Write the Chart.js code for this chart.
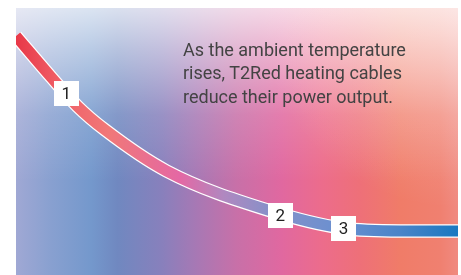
<!DOCTYPE html>
<html>
<head>
<meta charset="utf-8">
<script src="https://cdn.jsdelivr.net/npm/chart.js@4"></script>
<style>
  html, body { margin: 0; padding: 0; background: #fff; }
  #wrap { position: relative; width: 461px; height: 275px; }
  #note {
    position: absolute; left: 183px; top: 38px;
    font-family: Roboto, sans-serif; font-size: 18px; line-height: 23.3px;
    color: #434343; white-space: nowrap;
  }
</style>
</head>
<body>
<div id="wrap">
  <canvas id="chart" width="461" height="275"></canvas>
  <div id="note">As the ambient temperature<br>rises, T2Red heating cables<br>reduce their power output.</div>
</div>
<script>
// ambient temperature (relative) vs power output (relative)
const temps = [0, 8, 14, 20, 34, 57, 74, 87, 100];
const power = [89.5, 74, 63, 54.5, 39, 24.3, 17.5, 16.5, 16.5];

// numbered markers along the curve
const markerText = ["1", "2", "3"];
const markerTemp = [11.4, 59.8, 74.1];
const markerPower = [67.9, 22.3, 17.4];

const points = temps.map((t, i) => ({ x: t, y: power[i] }));

function lineGradient(context) {
  const chart = context.chart;
  const area = chart.chartArea;
  if (!area) return "#e84050";
  const g = chart.ctx.createLinearGradient(area.left, 0, area.right, 0);
  g.addColorStop(0.00, "#e83848");
  g.addColorStop(0.10, "#f06068");
  g.addColorStop(0.21, "#f07878");
  g.addColorStop(0.37, "#e468a4");
  g.addColorStop(0.47, "#b088c0");
  g.addColorStop(0.57, "#8890c8");
  g.addColorStop(0.73, "#6a90d0");
  g.addColorStop(0.87, "#4a84c8");
  g.addColorStop(1.00, "#1a78c0");
  return g;
}

const backdrop = {
  id: "backdrop",
  beforeDraw(chart) {
    const { ctx, chartArea: a } = chart;
    const w = a.right - a.left, ht = a.bottom - a.top;
    ctx.save();
    const h = ctx.createLinearGradient(a.left, 0, a.right, 0);
    const stops = [
      [0.00, "#a0a8d4"], [0.08, "#88a0d0"], [0.17, "#7498cc"], [0.23, "#7088c0"],
      [0.33, "#8880bc"], [0.41, "#a878b4"], [0.50, "#c870a8"], [0.60, "#e068a0"],
      [0.69, "#ec6c8c"], [0.78, "#ee7078"], [0.87, "#f07c68"], [0.96, "#f08070"],
      [1.00, "#f08a80"]
    ];
    stops.forEach(s => h.addColorStop(s[0], s[1]));
    ctx.fillStyle = h;
    ctx.fillRect(a.left, a.top, w, ht);
    const v = ctx.createLinearGradient(0, a.top, 0, a.bottom);
    v.addColorStop(0.00, "rgba(255,255,255,0.74)");
    v.addColorStop(0.15, "rgba(255,255,255,0.5)");
    v.addColorStop(0.40, "rgba(255,255,255,0.14)");
    v.addColorStop(0.65, "rgba(255,255,255,0)");
    ctx.fillStyle = v;
    ctx.fillRect(a.left, a.top, w, ht);
    // softer light corner at the top right
    const r = ctx.createRadialGradient(a.right, a.top, 0, a.right, a.top, 200);
    r.addColorStop(0, "rgba(255,240,240,0.35)");
    r.addColorStop(1, "rgba(255,240,240,0)");
    ctx.fillStyle = r;
    ctx.fillRect(a.left, a.top, w, ht);
    ctx.restore();
  }
};

const markers = {
  id: "markers",
  afterDatasetsDraw(chart) {
    const { ctx, scales } = chart;
    ctx.save();
    ctx.font = "17px Roboto, sans-serif";
    ctx.textAlign = "center";
    ctx.textBaseline = "middle";
    markerText.forEach((t, i) => {
      const px = scales.x.getPixelForValue(markerTemp[i]);
      const py = scales.y.getPixelForValue(markerPower[i]);
      ctx.fillStyle = "#fff";
      ctx.fillRect(Math.round(px - 12.5), Math.round(py - 12.5), 25, 25);
      ctx.fillStyle = "#222";
      ctx.fillText(t, px, py + 1);
    });
    ctx.restore();
  }
};

new Chart(document.getElementById("chart").getContext("2d"), {
  type: "line",
  data: {
    datasets: [
      {
        data: points,
        borderColor: lineGradient,
        borderWidth: 11,
        cubicInterpolationMode: "monotone",
        pointRadius: 0,
        clip: 0,
        order: 1
      },
      {
        data: points,
        borderColor: "#ffffff",
        borderWidth: 13.5,
        cubicInterpolationMode: "monotone",
        pointRadius: 0,
        clip: 0,
        order: 2
      }
    ]
  },
  options: {
    responsive: false,
    animation: false,
    layout: { padding: { left: 16, top: 8, right: 3, bottom: 0 } },
    plugins: { legend: { display: false }, tooltip: { enabled: false } },
    scales: {
      x: { type: "linear", min: 0, max: 100, display: false },
      y: { min: 0, max: 100, display: false }
    }
  },
  plugins: [backdrop, markers]
});
</script>
</body>
</html>
